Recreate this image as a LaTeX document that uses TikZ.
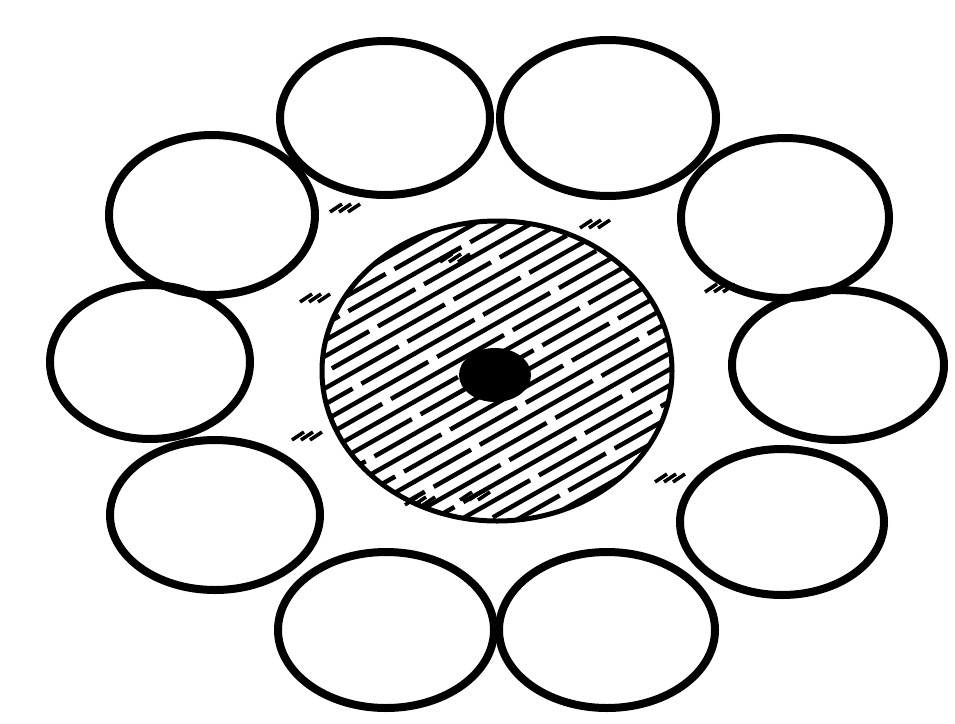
\documentclass[tikz,border=0pt]{standalone}
\usetikzlibrary{calc}
\begin{document}
\begin{tikzpicture}[x=1pt,y=-1pt,
    strand/.style={draw=black, line width=8pt},
    corering/.style={draw=black, line width=5pt},
    hatchline/.style={black, line width=4.5pt},
    tuft/.style={black, line width=3.5pt}]
    \useasboundingbox (0,0) rectangle (955,723);
    % outer strands
    \foreach \cx/\cy/\rx/\ry in {385/118/105/77, 608/118/108/78,
                                 212/215/103/80, 785/218/104/80,
                                 150/362/100/77, 838/365/106/75,
                                 215/515/105/75, 782/522/102/73,
                                 386/630/108/78, 607/630/108/78}
        \draw[strand] (\cx,\cy) ellipse [x radius=\rx, y radius=\ry];
    % hatched core
    \coordinate (C) at (497,371);
    \begin{scope}
        \clip (C) ellipse [x radius=175, y radius=150];
        \foreach \k in {-22,...,22}
            \foreach \j in {0,...,5}{
                \pgfmathsetmacro{\t}{\j*140-mod(\k*53+1400,140)}
                \draw[hatchline] ($(C)+(0,\k*16)+(-320,181)+(0.87*\t,-0.492*\t)$)
                    -- ++(113,-64);
            }
    \end{scope}
    \draw[corering] (C) ellipse [x radius=175, y radius=150];
    \fill[black] (495,375) ellipse [x radius=36, y radius=27];
    % loose marks between strands
    \foreach \x/\y in {440/262, 580/228, 705/292,
                       405/505, 460/500, 655/482,
                       300/302, 292/440, 330/212}
        \foreach \d in {0,9,18}
            \draw[tuft] (\x+\d,\y) -- ++(12,-8);
\end{tikzpicture}
\end{document}
